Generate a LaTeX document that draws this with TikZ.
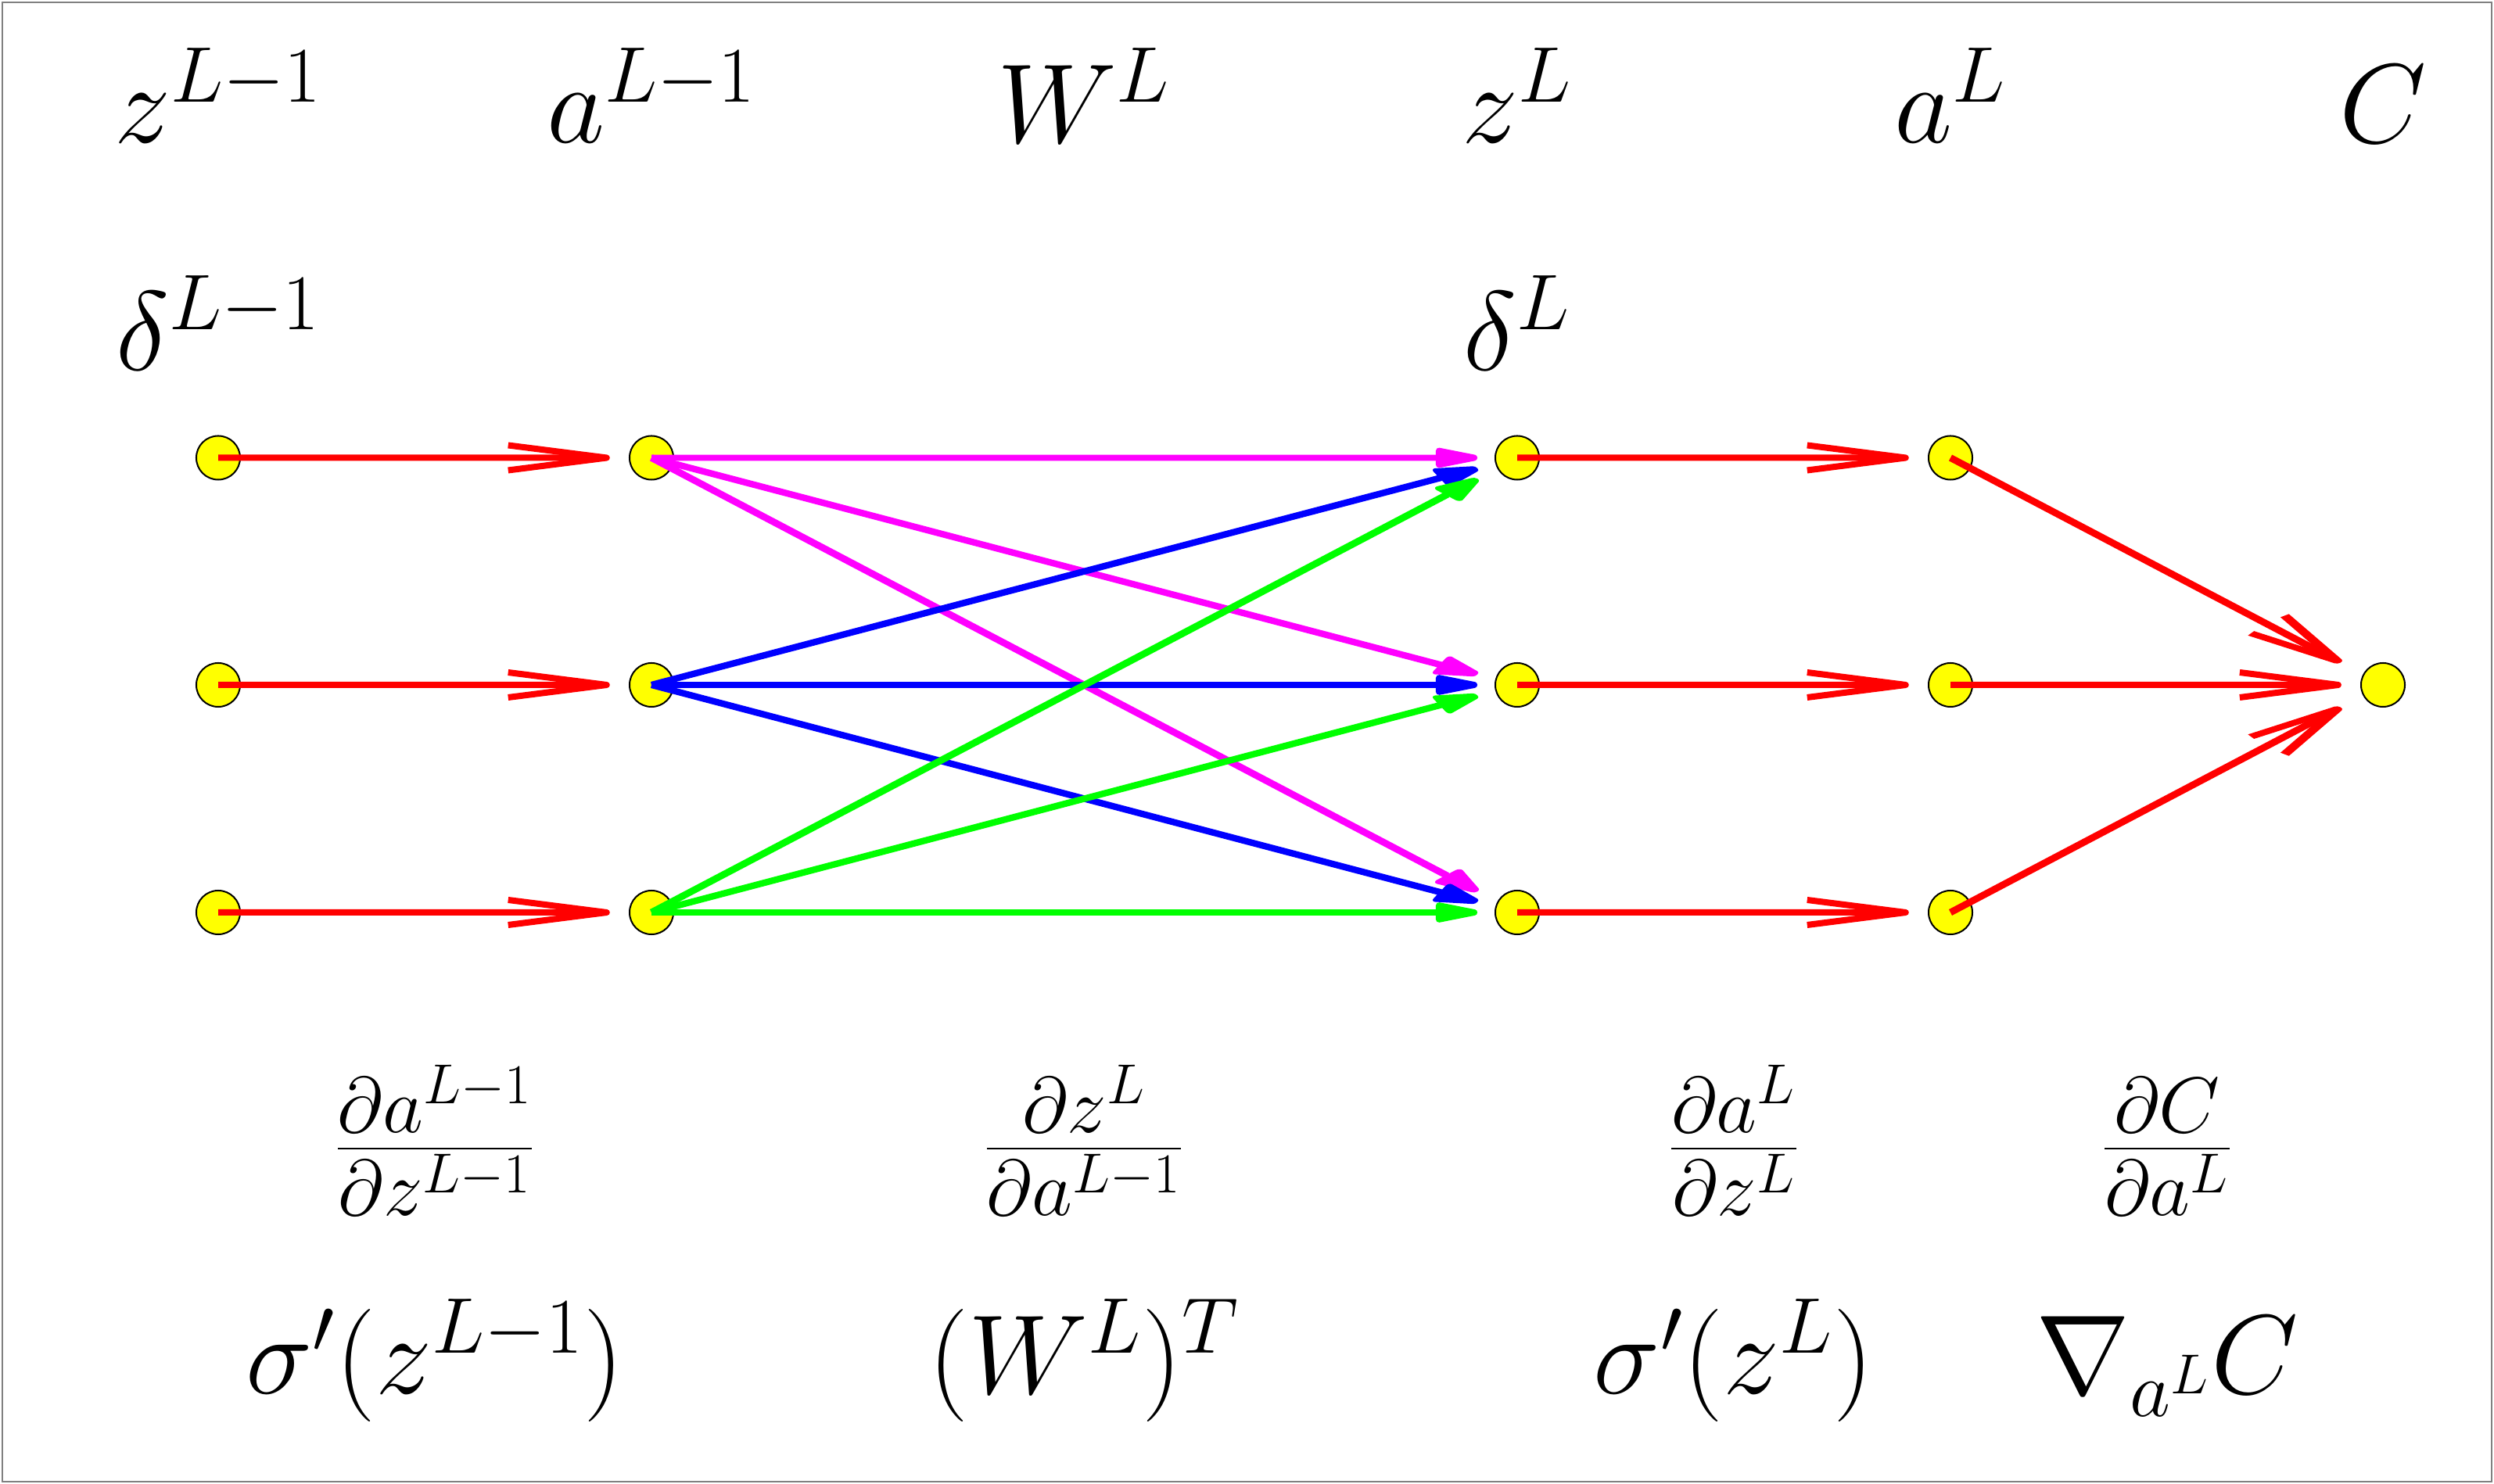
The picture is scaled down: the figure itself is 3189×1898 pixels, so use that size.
\RequirePackage{fix-cm}
\documentclass[tikz,border=0pt]{standalone}
\usetikzlibrary{arrows.meta,calc}
\definecolor{dotyellow}{RGB}{255,255,0}
\definecolor{arrred}{RGB}{255,0,0}
\definecolor{arrmag}{RGB}{255,0,255}
\definecolor{arrblue}{RGB}{0,0,255}
\definecolor{arrgreen}{RGB}{0,255,0}
\definecolor{framegray}{RGB}{128,128,128}
\begin{document}
\begin{tikzpicture}[x=0.01cm,y=-0.01cm,
  dot/.style={circle,fill=dotyellow,draw=black,line width=0.02cm,minimum size=0.56cm,inner sep=0pt},
  lbl/.style={font=\fontsize{41}{49}\selectfont,anchor=base,inner sep=0pt},
  rH/.style={draw=arrred,line width=0.08cm,-{Straight Barb[length=1.26cm,width=0.32cm,line join=round,line cap=butt]}},
  rDn/.style={draw=arrred,line width=0.088cm,-{Straight Barb[length=1.006cm,width=0.40cm,slant=0.69,line join=round,line cap=butt]}},
  rUp/.style={draw=arrred,line width=0.088cm,-{Straight Barb[length=1.006cm,width=0.40cm,slant=-0.69,line join=round,line cap=butt]}},
  cH/.style={draw=#1,line width=0.078cm,-{Triangle[length=0.72cm,width=0.25cm,round]}},
  cDnA/.style={draw=#1,line width=0.088cm,-{Triangle[length=0.575cm,width=0.313cm,slant=0.69,round]}},
  cUpA/.style={draw=#1,line width=0.088cm,-{Triangle[length=0.575cm,width=0.313cm,slant=-0.69,round]}},
  cDnB/.style={draw=#1,line width=0.083cm,-{Triangle[length=0.666cm,width=0.27cm,slant=0.552,round]}},
  cUpB/.style={draw=#1,line width=0.083cm,-{Triangle[length=0.666cm,width=0.27cm,slant=-0.552,round]}}
]
\newcommand\conn[4]{\draw[#3] (#1.center) -- ($(#1.center)!#4!(#2.center)$);}
\useasboundingbox (0,0) rectangle (3189,1898);
\draw[framegray,line width=0.022cm] (3,3) rectangle (3186,1895);

% nodes
\foreach \r/\y in {1/585.5,2/876,3/1167}{
  \node[dot] (z\r) at (279,\y) {};
  \node[dot] (a\r) at (833,\y) {};
  \node[dot] (y\r) at (1940,\y) {};
  \node[dot] (b\r) at (2494,\y) {};
}
\node[dot] (c) at (3047,876) {};

% labels
\node[lbl] (t1) at (279,183) {$z^{L-1}$};
\node[lbl] (t2) at (833,183) {$a^{L-1}$};
\node[lbl] (t3) at (1386,183) {$W^L$};
\node[lbl] (t4) at (1940,183) {$z^L$};
\node[lbl] (t5) at (2494,183) {$a^L$};
\node[lbl] (t6) at (3047,183) {$C$};
\node[lbl] (d1) at (279,474) {$\delta^{L-1}$};
\node[lbl] (d2) at (1940,474) {$\delta^L$};
\node[lbl] (f1) at (556,1505) {$\frac{\partial a^{L-1}}{\partial z^{L-1}}$};
\node[lbl] (f2) at (1386,1505) {$\frac{\partial z^{L}}{\partial a^{L-1}}$};
\node[lbl] (f3) at (2217,1505) {$\frac{\partial a^{L}}{\partial z^{L}}$};
\node[lbl] (f4) at (2771,1505) {$\frac{\partial C}{\partial a^{L}}$};
\node[lbl] (g1) at (556,1783) {$\sigma'(z^{L-1})$};
\node[lbl] (g2) at (1386,1783) {$(W^L)^T$};
\node[lbl] (g3) at (2217,1783) {$\sigma'(z^L)$};
\node[lbl] (g4) at (2771,1783) {$\nabla_{a^L}C$};

% red arrows
\foreach \r in {1,2,3}{
  \conn{z\r}{a\r}{rH}{0.904}
  \conn{y\r}{b\r}{rH}{0.904}
}
\conn{b1}{c}{rDn}{0.902}
\conn{b2}{c}{rH}{0.904}
\conn{b3}{c}{rUp}{0.902}

% magenta
\conn{a1}{y1}{cH=arrmag}{0.954}
\conn{a1}{y2}{cDnB=arrmag}{0.954}
\conn{a1}{y3}{cDnA=arrmag}{0.954}
% blue
\conn{a2}{y1}{cUpB=arrblue}{0.954}
\conn{a2}{y2}{cH=arrblue}{0.954}
\conn{a2}{y3}{cDnB=arrblue}{0.954}
% green
\conn{a3}{y1}{cUpA=arrgreen}{0.954}
\conn{a3}{y2}{cUpB=arrgreen}{0.954}
\conn{a3}{y3}{cH=arrgreen}{0.954}
\end{tikzpicture}
\end{document}
